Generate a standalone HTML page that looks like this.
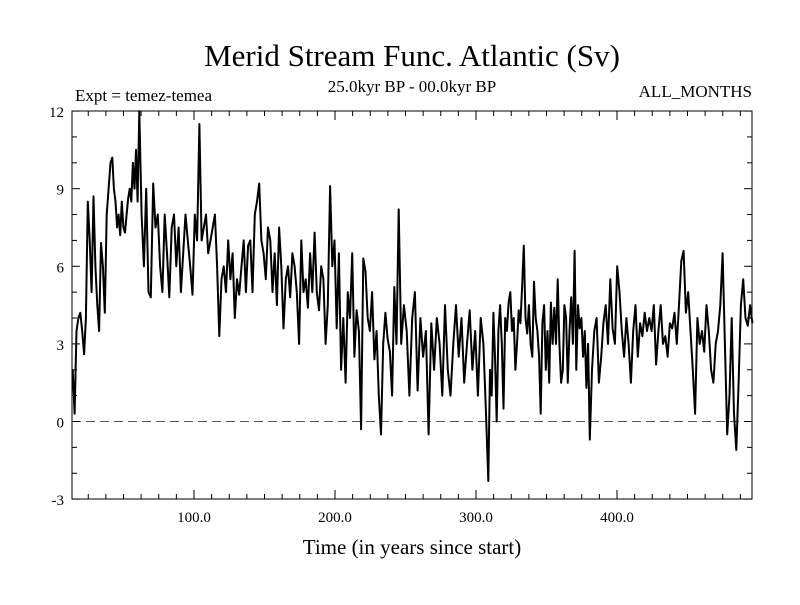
<!DOCTYPE html>
<html><head><meta charset="utf-8"><style>
body{margin:0;background:#fff}
svg text{font-family:"Liberation Serif",serif;fill:#000}
</style></head><body>
<svg id="chart" width="800" height="600">
<rect x="0" y="0" width="800" height="600" fill="#fff"/>
<text x="412" y="66" font-size="31" text-anchor="middle">Merid Stream Func. Atlantic (Sv)</text>
<text x="75" y="101" font-size="17">Expt = temez-temea</text>
<text x="412" y="92" font-size="17" text-anchor="middle">25.0kyr BP - 00.0kyr BP</text>
<text x="752" y="97" font-size="17" text-anchor="end">ALL_MONTHS</text>
<text x="412" y="554" font-size="21" text-anchor="middle">Time (in years since start)</text>
<g id="axes"></g>
<g id="plot"></g>
</svg>
<script>
const values=[2,0.3,3.5,4,4.2,3.5,2.6,4,8.5,7,5,8.7,6,4.5,3.5,6.9,6,4.2,8,9,10,10.2,9,8.5,7.5,8,7.2,8.5,7.5,7.3,8,8.6,9,8.5,10,9,10.5,8.5,12,8,6,9,5,4.8,9.2,7.5,8,6,5,8,6.5,4.8,7.5,8,6,7.5,5,6.5,8,7,6,4.9,8,7,11.5,7,7.5,8,6.5,7,7.5,8,6,3.3,5.5,6,5,7,5.5,6.5,4,5.5,4.9,6,7,5,6.8,7,5,8,8.5,9.2,7,6.5,5.5,7.5,7,5,6.5,4.5,7.5,6,3.6,5.5,6,4.8,6.5,6,5,3,7,5,5.5,4.4,6.5,5,7.3,5,4.3,6,5.5,3,4.5,9.1,6,7,3.6,6.5,2,4,1.5,5,4,6.5,2.5,4.3,3.5,-0.3,6.3,5.8,4,3.5,5,2.4,3.5,1,-0.5,3,4.2,3.2,2.7,1,5.2,3,8.2,3,4.5,3.5,1,4,5,1.2,4,2.5,3.5,-0.5,3.8,2,4,3,1,4.5,2,1,3,4.5,2.5,4,1.5,3,4.3,2,3.5,1,4,3,0.2,-2.3,2,1,4.2,2.5,0,3.5,4.5,3,0.5,4,3.5,4.6,5,3.5,4,2,3,4.3,3.8,5.2,6.8,4,3.4,4.5,3,2.5,5.4,4,3.5,2.5,0.3,3.8,4.5,2,3.5,1.5,4.6,3,4.4,3,5.5,3,1.5,2,4.5,4,1.5,3.5,4.8,3,6.6,2,4.5,3.6,4,2.5,3.5,1.3,3,-0.7,2,3.5,4,1.5,2.5,3.8,4.5,3,5.5,3.6,3,6,5,3.5,2.5,4,3,1.5,3.5,4.5,2.5,3.8,3.3,4.2,3.5,4,3.5,4.5,2.2,3.5,4.5,3,3.3,2.5,3.8,3.6,4.2,3,4.5,6.2,6.6,4.2,5,3.5,2,0.3,4,3,3.5,2.7,4.5,3.5,2,1.5,3,3.5,4.5,6.5,3,-0.5,1,4,0.3,-1.1,1.5,4.5,5.5,4,3.7,4.5,3.8];
// sample index -> year anchors (x data)
const anchorIndex=[0,21,38,64,155,187,248,319];
const anchorYear=[14,42,61,103.5,246,308,381,496];
const yTicks=[-3,0,3,6,9,12];
const xTicks=[100,200,300,400];
const xTickLabels=["100.0","200.0","300.0","400.0"];
const L=72,R=752,T=111,B=499;
const xScale=v=>53+v*1.41;
const yScale=v=>421.5-v*25.87;
const NS="http://www.w3.org/2000/svg";
const axes=document.getElementById('axes'),plot=document.getElementById('plot');
function mk(tag,attrs,parent){const e=document.createElementNS(NS,tag);for(const k in attrs)e.setAttribute(k,attrs[k]);parent.appendChild(e);return e;}
function yearOf(i){
 const n=values.length-1;const ai=anchorIndex.map(a=>a*n/319);
 for(let k=0;k<ai.length-1;k++){if(i<=ai[k+1]||k===ai.length-2){const f=(i-ai[k])/(ai[k+1]-ai[k]);return anchorYear[k]+f*(anchorYear[k+1]-anchorYear[k]);}}
}
const frame=mk('rect',{x:L,y:T,width:R-L,height:B-T,fill:'none',stroke:'#000','stroke-width':1},axes);


const zero=mk('line',{x1:L,x2:R,y1:yScale(0),y2:yScale(0),stroke:'#555','stroke-dasharray':'9,5'},axes);


for(let v=-3;v<=12;v++){const y=yScale(v),len=yTicks.includes(v)?8:5;
 mk('line',{x1:L,x2:L+len,y1:y,y2:y,stroke:'#000'},axes);mk('line',{x1:R,x2:R-len,y1:y,y2:y,stroke:'#000'},axes);}
yTicks.forEach(v=>{const t=mk('text',{x:L-8,y:yScale(v)+6,'font-size':15,'text-anchor':'end'},axes);t.textContent=v;
 
 });
for(let yr=25;yr<500;yr+=12.5){const x=xScale(yr);if(x<=L||x>=R)continue;const len=(yr%100===0)?9:5;
 mk('line',{x1:x,x2:x,y1:B,y2:B-len,stroke:'#000'},axes);mk('line',{x1:x,x2:x,y1:T,y2:T+len,stroke:'#000'},axes);}
xTicks.forEach((v,i)=>{const t=mk('text',{x:xScale(v),y:522,'font-size':15,'text-anchor':'middle'},axes);t.textContent=xTickLabels[i];
 
 });
const pts=values.map((v,i)=>xScale(yearOf(i)).toFixed(1)+','+yScale(v).toFixed(1)).join(' ');
const line=mk('polyline',{points:pts,fill:'none',stroke:'#000','stroke-width':2,'stroke-linejoin':'round'},plot);


</script>
</body></html>
